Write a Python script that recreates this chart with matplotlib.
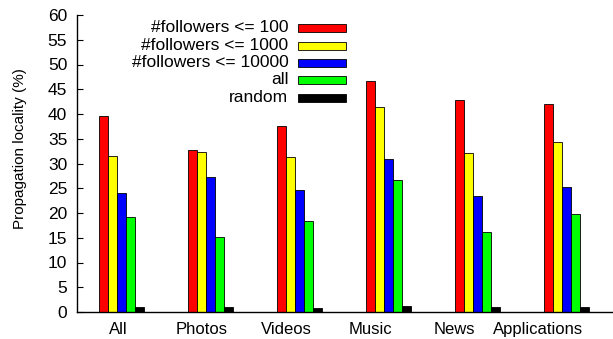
import matplotlib
matplotlib.use("Agg")
import matplotlib.pyplot as plt
import numpy as np
from matplotlib.patches import Rectangle

plt.rcParams['font.family'] = ['Liberation Sans', 'DejaVu Sans']

categories = ["All", "Photos", "Videos", "Music", "News", "Applications"]
series_names = ["#followers <= 100", "#followers <= 1000", "#followers <= 10000", "all", "random"]
colors = ["#ff0000", "#ffff00", "#0000ff", "#00ff00", "#000000"]

f100 = [39.5, 32.7, 37.6, 46.6, 42.8, 42.0]
f1000 = [31.6, 32.4, 31.4, 41.5, 32.1, 34.3]
f10000 = [24.1, 27.2, 24.6, 30.9, 23.4, 25.3]
all_ = [19.1, 15.2, 18.4, 26.7, 16.1, 19.7]
random_ = [0.95, 1.05, 0.9, 1.3, 0.95, 0.95]
series = [f100, f1000, f10000, all_, random_]

yticks = list(range(0, 61, 5))

fig = plt.figure(figsize=(6.13, 3.39), dpi=100)
ax = fig.add_axes([77/613, 27/339, 536/613, 297/339])

x = np.arange(len(categories))
w = 0.101
for k, (vals, c) in enumerate(zip(series, colors)):
    ax.bar(x + (k - 2) * w, vals, width=w, color=c, edgecolor="black", linewidth=0.6, zorder=2)

ax.set_xlim(-0.5, 5.52)
ax.set_ylim(0, 60)
ax.set_yticks(yticks)
ax.set_yticklabels([str(t) for t in yticks], fontsize=12.5)
label_pos = -0.039 + 0.9438 * x
ax.set_xticks(label_pos)
ax.set_xticklabels(categories, fontsize=12)
ax.tick_params(axis='x', length=0, pad=7)
ax.tick_params(axis='y', direction='in', length=4, pad=7)
ax.spines['top'].set_visible(False)
ax.spines['right'].set_visible(False)
ax.spines['left'].set_linewidth(1.0)
ax.spines['bottom'].set_linewidth(1.0)
fig.text(20/613, 1 - 148.5/339, "Propagation locality (%)", rotation=90,
         ha='center', va='center', fontsize=11)

# legend drawn manually (right-aligned text, swatch on right)
row_y = [28, 46, 62.5, 79.5, 98]
for name, c, py in zip(series_names, colors, row_y):
    yf = (312 - py) / 297
    ax.text((288 - 77) / 535, yf, name, transform=ax.transAxes, ha='right', va='center', fontsize=12.5)
    ax.add_patch(Rectangle(((298 - 77) / 535, yf - 4 / 297), 47 / 535, 8 / 297,
                           transform=ax.transAxes, facecolor=c, edgecolor='black', linewidth=0.6,
                           clip_on=False))

fig.savefig("out.png", dpi=100)
